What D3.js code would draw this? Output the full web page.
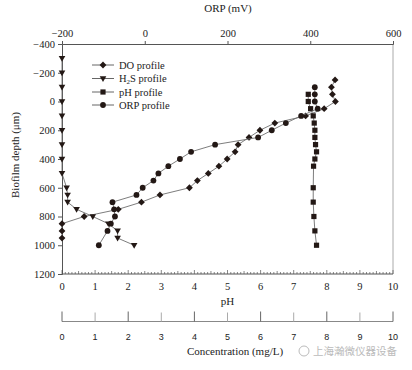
<!DOCTYPE html>
<html><head><meta charset="utf-8">
<script src="https://cdn.jsdelivr.net/npm/d3@7"></script>
<style>
body{margin:0;background:#fff;}
svg{display:block;}
</style></head>
<body>
<script>
// ---- data ----
const depthTicks = [-400,-200,0,200,400,600,800,1000,1200];
const orpTicks = [-200,0,200,400,600];
const phTicks = [0,1,2,3,4,5,6,7,8,9,10];
const concTicks = [0,1,2,3,4,5,6,7,8,9,10];

const doDepth = [-150,-100,-50,0,50,100,150,200,250,300,350,400,450,500,550,600,650,700,750,800,850,900,950];
const doConc  = [8.25,8.14,8.17,8.26,7.92,7.36,6.43,5.98,5.65,5.32,5.23,4.99,4.74,4.42,4.09,3.85,2.96,2.40,1.70,0.67,0,0,0];

const h2sDepth = [-300,-200,-100,0,100,200,300,400,500,600,650,700,750,800,850,900,950,1000];
const h2sConc  = [0,0,0,0,0,0,0,0,0,0.14,0.17,0.17,0.44,0.93,1.40,1.68,1.68,2.18];

const phDepth = [-50,0,50,100,150,200,250,300,350,400,450,600,700,800,900,1000];
const phVal   = [7.44,7.44,7.51,7.59,7.62,7.64,7.64,7.66,7.69,7.64,7.60,7.59,7.59,7.61,7.64,7.69];

const orpDepth = [-100,-50,0,50,100,150,200,250,300,350,400,450,500,550,600,650,700,750,800,850,900,1000];
const orpMv    = [411,411,411,418,378,341,307,274,170,112,85,57,33,21,-5,-20,-78,-74,-72,-82,-90,-111];

const legendLabels = ["DO profile","H2S profile","pH profile","ORP profile"];

// ---- layout ----
const W = 412, H = 370;
const L = 62, R = 393, T = 44, B = 274;
const serif = "'Liberation Serif','Times New Roman',serif";
const sans = "'Liberation Sans',Arial,sans-serif";
const ink = "#231815";

const svg = d3.select("body").append("svg").attr("width", W).attr("height", H);

const y = d3.scaleLinear().domain([-400,1200]).range([T,B]);
const xOrp = d3.scaleLinear().domain([-200,600]).range([L,R]);
const xC = d3.scaleLinear().domain([0,10]).range([L,R]);

// frame right
svg.append("line").attr("x1",R).attr("x2",R).attr("y1",T).attr("y2",B)
  .attr("stroke","#aaa").attr("stroke-width",1);

// top ORP axis
const gTop = svg.append("g").attr("transform",`translate(0,${T})`)
  .call(d3.axisTop(xOrp).tickValues(orpTicks).tickSize(3).tickPadding(4).tickFormat(d3.format("d")));
gTop.select(".domain").attr("stroke","#555");
gTop.selectAll(".tick line").attr("stroke","#555");
gTop.selectAll("text").attr("font-family",serif).attr("font-size",10.5).attr("fill","#222");
svg.append("text").attr("x",228).attr("y",12).attr("text-anchor","middle")
  .attr("font-family",serif).attr("font-size",11).attr("fill","#222").text("ORP (mV)");

// left depth axis
const gLeft = svg.append("g").attr("transform",`translate(${L},0)`)
  .call(d3.axisLeft(y).tickValues(depthTicks).tickSize(4).tickPadding(3).tickFormat(d3.format("d")));
gLeft.select(".domain").attr("stroke","#555");
gLeft.selectAll(".tick line").attr("stroke","#555");
gLeft.selectAll("text").attr("font-family",serif).attr("font-size",10.5).attr("fill","#222");
svg.append("text").attr("transform",`translate(19,155) rotate(-90)`).attr("text-anchor","middle")
  .attr("font-family",serif).attr("font-size",11).attr("fill","#222").text("Biofilm depth (μm)");

// bottom pH axis with minor ticks
const gPh = svg.append("g").attr("transform",`translate(0,${B})`);
gPh.append("line").attr("x1",L).attr("x2",R).attr("stroke","#555");
gPh.selectAll("line.minor").data(d3.range(0,100.5,1)).join("line").attr("class","minor")
  .attr("x1",d=>xC(d/10)).attr("x2",d=>xC(d/10))
  .attr("y1",0).attr("y2",d=>d%10===0?-4:(d%5===0?-3:-2)).attr("stroke","#555").attr("stroke-width",0.7);
gPh.selectAll("text").data(phTicks).join("text")
  .attr("x",d=>xC(d)).attr("y",16).attr("text-anchor","middle")
  .attr("font-family",serif).attr("font-size",10.5).attr("fill","#222").text(d=>d);
svg.append("text").attr("x",xC(5)).attr("y",305).attr("text-anchor","middle")
  .attr("font-family",serif).attr("font-size",11).attr("fill","#222").text("pH");

// concentration axis
const CY = 321.5;
const gC = svg.append("g").attr("transform",`translate(0,${CY})`);
gC.append("line").attr("x1",L).attr("x2",R).attr("stroke","#888");
gC.selectAll("line.t").data(concTicks).join("line").attr("class","t")
  .attr("x1",d=>xC(d)).attr("x2",d=>xC(d)).attr("y1",0).attr("y2",d=>d%2===0?-10:-9)
  .attr("stroke",d=>d%2===0?"#666":"#aaa").attr("stroke-width",1);
gC.selectAll("text").data(concTicks).join("text")
  .attr("x",d=>xC(d)).attr("y",18.5).attr("text-anchor","middle")
  .attr("font-family",sans).attr("font-size",9).attr("fill","#222").text(d=>d);
svg.append("text").attr("x",235).attr("y",355).attr("text-anchor","middle")
  .attr("font-family",serif).attr("font-size",11).attr("fill","#222").text("Concentration (mg/L)");

// watermark
svg.append("circle").attr("cx",304).attr("cy",351).attr("r",5).attr("fill","none").attr("stroke","#bbb").attr("stroke-width",1);
svg.append("text").attr("x",313).attr("y",355).attr("font-family","'Noto Sans CJK SC',sans-serif")
  .attr("font-size",10.5).attr("fill","#bbb").text("上海瀚微仪器设备");

// markers
const shapes = {
  diamond: "M0,-3.4L3.4,0L0,3.4L-3.4,0Z",
  tri: "M-3.3,-2.3L3.3,-2.3L0,3.4Z",
  square: "M-2.6,-2.6H2.6V2.6H-2.6Z"
};
const lineStyle = s => s.attr("fill","none").attr("stroke","#6e6e6e").attr("stroke-width",0.9);

function series(xs, ys, xScale, kind){
  const pts = xs.map((v,i)=>[xScale(v), y(ys[i])]);
  svg.append("path").attr("d", d3.line()(pts)).call(lineStyle);
  const g = svg.append("g");
  pts.forEach(p=>{
    if(kind==="circle") g.append("circle").attr("cx",p[0]).attr("cy",p[1]).attr("r",2.9).attr("fill",ink);
    else g.append("path").attr("d",shapes[kind]).attr("transform",`translate(${p[0]},${p[1]})`).attr("fill",ink);
  });
}
series(doConc, doDepth, xC, "diamond");
series(h2sConc, h2sDepth, xC, "tri");
series(phVal, phDepth, xC, "square");
series(orpMv, orpDepth, xOrp, "circle");

// legend
const legY = [65,78.5,92,105];
const kinds = ["diamond","tri","square","circle"];
legendLabels.forEach((lab,i)=>{
  const yy = legY[i];
  svg.append("line").attr("x1",92).attr("x2",114).attr("y1",yy).attr("y2",yy).attr("stroke","#555").attr("stroke-width",0.9);
  if(kinds[i]==="circle") svg.append("circle").attr("cx",103).attr("cy",yy).attr("r",2.9).attr("fill",ink);
  else svg.append("path").attr("d",shapes[kinds[i]]).attr("transform",`translate(103,${yy})`).attr("fill",ink);
  const t = svg.append("text").attr("x",119).attr("y",yy+3.5).attr("font-family",serif).attr("font-size",10.5).attr("fill","#222");
  if(lab.startsWith("H2S")){
    t.append("tspan").text("H");
    t.append("tspan").attr("font-size",7).attr("dy",2).text("2");
    t.append("tspan").attr("dy",-2).text("S profile");
  } else t.text(lab);
});
</script>
</body></html>
